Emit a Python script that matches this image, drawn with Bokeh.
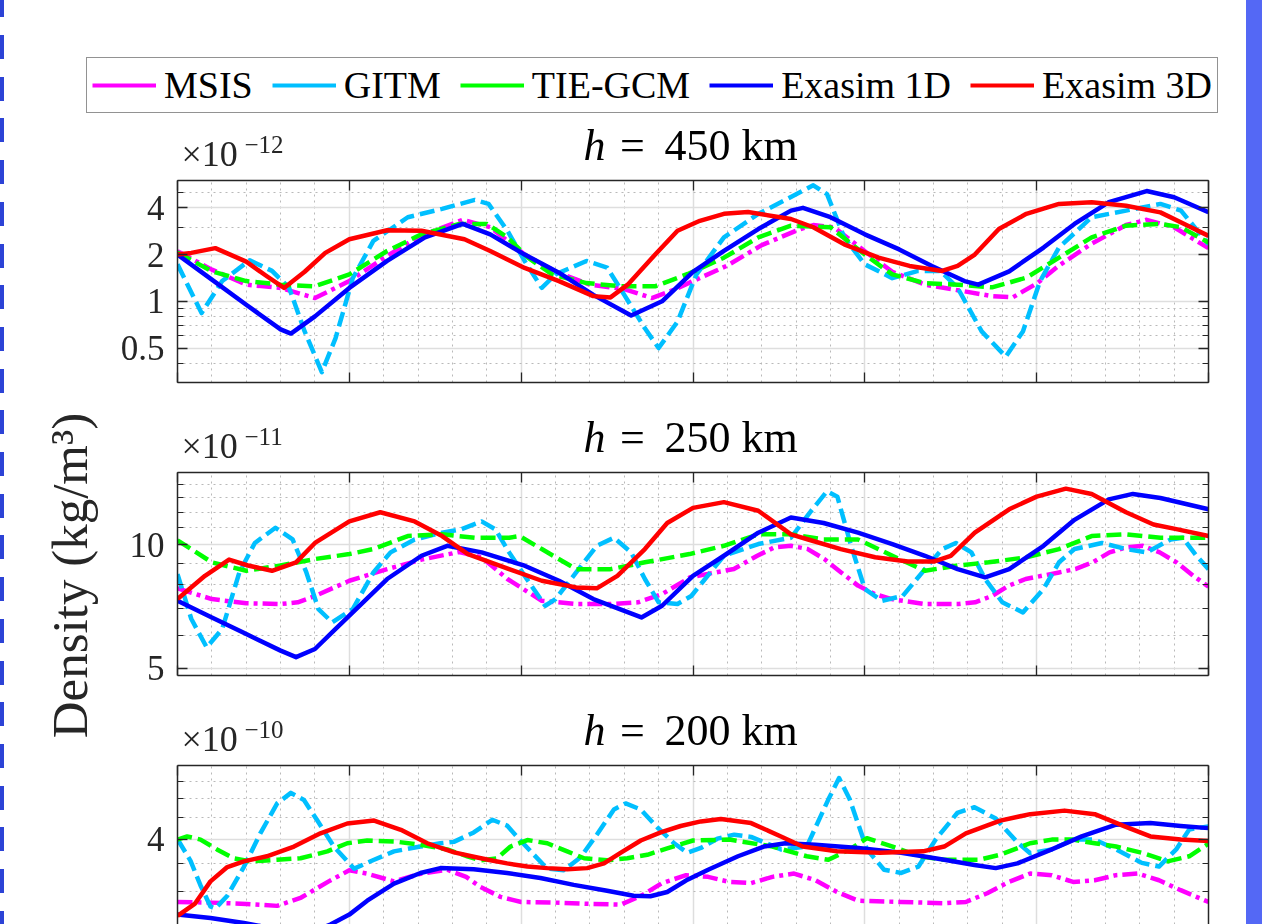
from bokeh.plotting import figure
from bokeh.models import (Range1d, FixedTicker, LinearAxis, LogAxis, Label, Legend,
                          LegendItem, NumeralTickFormatter, Div)
from bokeh.layouts import row, column
from bokeh.embed import file_html
from bokeh.resources import INLINE

# ---------------- data (values in the units of each panel's multiplier) ----------------
SERIES_NAMES = ["MSIS", "GITM", "TIE-GCM", "Exasim 1D", "Exasim 3D"]
SERIES_COLORS = ["#ff00ff", "#00bfff", "#00ff00", "#0000ff", "#ff0000"]
SERIES_DASH = ["15 5 4 5", "15 6", "15 6", "solid", "solid"]

PANEL_TITLES = ["450 km", "250 km", "200 km"]
PANEL_EXPONENTS = ["\u221212", "\u221211", "\u221210"]

# h = 450 km (x 1e-12)
P1_MSIS_X = [0, 1, 2, 3, 4, 5, 6, 7, 8.3, 9.1, 10.1, 11, 12, 13, 13.8, 14.5, 15, 16, 17, 18, 18.5,
             19.1, 20, 20.8, 21.75, 22.7, 23.7, 24.3, 25, 25.65, 26.6, 27.6, 28.2, 29, 30]
P1_MSIS = [2.1, 1.6, 1.28, 1.22, 1.05, 1.35, 1.9, 2.6, 3.35, 3.0, 2.0, 1.55, 1.28, 1.2, 1.05, 1.2, 1.35,
           1.7, 2.3, 2.85, 3.1, 3.0, 2.1, 1.55, 1.28, 1.18, 1.08, 1.06, 1.3, 1.7, 2.35, 3.1, 3.35, 3.0, 2.2]
P1_GITM_X = [0, 0.7, 1.3, 2.1, 2.75, 3.25, 3.7, 4.2, 4.6, 5.1, 5.7, 6.7, 7.7, 8.65, 9.05, 9.6, 10.1,
             10.6, 11, 11.9, 12.5, 13, 13.6, 14, 14.55, 15.1, 15.9, 16.9, 17.85, 18.5, 18.9, 19.4, 20,
             20.8, 21.55, 22.2, 22.7, 23.4, 24.1, 24.6, 25.1, 25.65, 26.6, 27.6, 28.6, 29.2, 30]
P1_GITM = [1.73, 0.84, 1.35, 1.84, 1.57, 1.22, 0.64, 0.35, 0.58, 1.41, 2.45, 3.48, 3.94, 4.5, 4.24,
           2.85, 1.82, 1.22, 1.49, 1.82, 1.65, 1.1, 0.67, 0.5, 0.74, 1.49, 2.58, 3.66, 4.69, 5.59, 4.9,
           2.58, 1.73, 1.41, 1.57, 1.57, 1.22, 0.64, 0.44, 0.64, 1.35, 2.22, 3.48, 3.84, 4.24, 3.84, 2.33]
P1_TIE_X = [0, 1, 2, 3, 4, 5, 6.1, 7.1, 8.2, 9, 9.6, 10.2, 10.9, 11.9, 12.9, 13.9, 14.85, 15.9, 16.9,
            17.85, 19, 20, 20.8, 21.75, 22.7, 23.7, 24.7, 25.65, 26.6, 27.6, 28.6, 29.2, 30]
P1_TIE = [2.06, 1.56, 1.35, 1.28, 1.25, 1.49, 2.11, 2.7, 3.15, 3.15, 2.58, 1.91, 1.49, 1.31, 1.25, 1.25,
          1.5, 1.91, 2.58, 3.07, 3.0, 2.0, 1.49, 1.31, 1.28, 1.23, 1.42, 1.91, 2.58, 3.07, 3.15, 3.0, 2.39]
P1_E1D_X = [0, 1, 2, 3, 3.3, 4, 5, 6.1, 7.2, 8.3, 9.1, 10.1, 11.1, 12.1, 13.2, 14.1, 15, 15.9, 16.9,
            17.85, 18.2, 19, 20, 21, 21.95, 22.9, 23.3, 24.2, 25.2, 26.1, 27.1, 28.2, 29, 30]
P1_E1D = [2.0, 1.38, 0.95, 0.66, 0.62, 0.8, 1.22, 1.82, 2.58, 3.15, 2.7, 2.0, 1.53, 1.1, 0.81, 1.0, 1.55,
          2.11, 2.92, 3.84, 4.0, 3.48, 2.7, 2.16, 1.69, 1.35, 1.28, 1.56, 2.22, 3.15, 4.35, 5.13, 4.68, 3.75]
P1_E3D_X = [0, 0.4, 1.1, 2, 2.6, 3.1, 3.7, 4.3, 5, 6.1, 7.1, 8.35, 9.1, 10.1, 11.1, 12.1, 12.6, 13.1,
            13.9, 14.55, 15.2, 15.9, 16.6, 17.85, 18.5, 19.4, 20.4, 21.3, 22.25, 22.7, 23.2, 23.9, 24.7,
            25.65, 26.6, 27.6, 28.6, 29.4, 30]
P1_E3D = [2.0, 2.05, 2.2, 1.8, 1.45, 1.22, 1.55, 2.05, 2.51, 2.87, 2.85, 2.51, 2.11, 1.64, 1.35, 1.08,
          1.06, 1.28, 2.0, 2.85, 3.3, 3.66, 3.76, 3.39, 3.0, 2.33, 1.91, 1.69, 1.57, 1.69, 2.0, 2.92, 3.66,
          4.24, 4.35, 4.13, 3.74, 3.07, 2.64]

# h = 250 km (x 1e-11)
P2_MSIS_X = [0, 1, 2, 3, 3.5, 4, 5, 6.1, 7.1, 8.2, 8.85, 9.6, 10.6, 11.6, 12.6, 13.4, 14.1, 14.92,
             16.19, 16.87, 17.36, 17.85, 18.34, 18.82, 19.31, 19.8, 20.29, 20.78, 21.75, 22.73, 23.21,
             23.7, 24.19, 24.68, 25.65, 26.14, 26.63, 27.12, 27.6, 28.09, 28.58, 29.07, 29.56, 30]
P2_MSIS = [7.83, 7.37, 7.2, 7.17, 7.24, 7.5, 8.17, 8.72, 9.2, 9.6, 9.32, 8.25, 7.3, 7.17, 7.17, 7.24,
           7.58, 8.33, 8.73, 9.4, 9.85, 9.94, 9.76, 9.23, 8.56, 7.95, 7.58, 7.37, 7.17, 7.17, 7.24, 7.5,
           7.95, 8.25, 8.56, 8.73, 9.06, 9.58, 9.85, 9.94, 9.58, 9.06, 8.4, 7.9]
P2_GITM_X = [0, 0.4, 0.85, 1.3, 1.8, 2.25, 2.85, 3.35, 3.75, 4.1, 4.5, 5.1, 5.7, 6.2, 6.9, 7.7, 8.25,
             8.85, 9.25, 9.65, 10.1, 10.7, 11.0, 11.6, 12.2, 12.7, 13.2, 13.6, 14.0, 14.55, 14.95, 15.9,
             16.9, 17.85, 18.4, 18.9, 19.2, 19.6, 20.0, 20.5, 21.1, 21.75, 22.25, 22.65, 23.1, 23.5, 24.0,
             24.6, 25.2, 25.65, 26.1, 26.9, 27.6, 28.2, 28.9, 29.25, 29.65, 30]
P2_GITM = [8.48, 6.6, 5.62, 6.23, 8.56, 10.1, 11.0, 10.3, 8.56, 6.97, 6.47, 6.97, 8.56, 9.58, 10.3,
           10.7, 10.9, 11.4, 10.9, 9.58, 8.4, 7.1, 7.37, 8.56, 9.94, 10.4, 9.58, 8.25, 7.24, 7.17, 7.5,
           9.4, 10.04, 10.4, 11.98, 13.5, 13.1, 9.94, 7.8, 7.3, 7.5, 8.72, 9.76, 10.1, 9.58, 8.25, 7.24,
           6.84, 7.8, 9.06, 9.76, 10.1, 9.76, 9.58, 10.3, 10.4, 9.4, 8.72]
P2_TIE_X = [0, 1, 2, 3, 4, 5, 5.7, 6.7, 7.7, 8.65, 9.65, 9.95, 10.6, 11.6, 12.6, 13.6, 14.9, 15.9,
            16.9, 17.85, 18.8, 19.8, 20.8, 21.75, 22.7, 23.6, 24.7, 25.65, 26.6, 27.6, 28.6, 30]
P2_TIE = [10.25, 9.06, 8.64, 8.9, 9.23, 9.49, 9.76, 10.5, 10.6, 10.4, 10.4, 10.5, 9.76, 8.72, 8.72,
          9.06, 9.49, 9.94, 10.6, 10.6, 10.3, 10.3, 9.4, 8.64, 8.9, 9.06, 9.32, 9.76, 10.5, 10.6, 10.4, 10.4]
P2_E1D_X = [0, 1, 2, 3, 3.45, 4, 5, 6.1, 7.1, 7.85, 8.85, 10.1, 11.1, 12.1, 13.5, 14.1, 15, 15.9, 16.9,
            17.85, 18.8, 19.8, 20.8, 21.75, 22.7, 23.5, 24.2, 25.2, 26.1, 27.1, 27.8, 28.6, 30]
P2_E1D = [7.3, 6.65, 6.06, 5.52, 5.32, 5.57, 6.72, 8.25, 9.4, 9.94, 9.58, 8.89, 8.17, 7.37, 6.65, 7.1,
          8.4, 9.4, 10.7, 11.65, 11.3, 10.7, 10.04, 9.4, 8.72, 8.33, 8.72, 9.94, 11.5, 12.9, 13.3, 13.0, 12.2]
P2_E3D_X = [0, 0.8, 1.5, 2.05, 2.75, 3.45, 4, 5, 5.9, 6.9, 7.7, 8.45, 9.65, 10.6, 11.6, 12.2, 12.8,
            13.6, 14.25, 15, 15.9, 16.9, 17.85, 18.35, 19.3, 20.3, 21.25, 22, 22.5, 23.2, 24.2, 25,
            25.85, 26.6, 27.6, 28.4, 29.1, 30]
P2_E3D = [7.37, 8.4, 9.2, 8.9, 8.64, 9.06, 10.1, 11.4, 12.0, 11.4, 10.5, 9.49, 8.72, 8.17, 7.87, 7.83,
          8.4, 9.76, 11.3, 12.3, 12.7, 12.1, 10.6, 10.3, 9.76, 9.32, 9.1, 9.1, 9.4, 10.7, 12.2, 13.1,
          13.7, 13.3, 12.0, 11.2, 10.9, 10.5]

# h = 200 km (x 1e-10)
P3_MSIS_X = [0, 1, 2, 2.9, 3.6, 4.4, 5.0, 5.5, 6.3, 7.1, 7.85, 8.4, 8.8, 9.4, 10.0, 11.0, 12.0, 12.9,
             13.5, 14.1, 14.8, 15.44, 16.06, 16.69, 17.31, 17.94, 18.56, 19.19, 19.81, 21.06, 22.31,
             22.94, 23.56, 24.19, 24.81, 25.44, 26.06, 26.69, 27.31, 27.94, 28.56, 29.19, 30]
P3_MSIS = [2.83, 2.82, 2.8, 2.77, 2.9, 3.17, 3.37, 3.31, 3.17, 3.31, 3.38, 3.25, 3.08, 2.91, 2.83, 2.82,
           2.8, 2.79, 2.93, 3.14, 3.28, 3.25, 3.16, 3.14, 3.25, 3.31, 3.19, 2.99, 2.85, 2.83, 2.81, 2.83,
           2.97, 3.16, 3.31, 3.28, 3.16, 3.19, 3.28, 3.31, 3.19, 3.02, 2.83]
P3_GITM_X = [0, 0.38, 0.67, 0.96, 1.1, 1.45, 1.93, 2.41, 2.9, 3.3, 3.68, 4.07, 4.55, 5.14, 5.72, 6.3,
             7.07, 7.65, 8.04, 8.62, 9.16, 9.59, 9.98, 10.37, 10.76, 11.24, 11.73, 12.21, 12.7, 13.04,
             13.48, 13.96, 14.45, 14.84, 15.23, 15.71, 16.2, 16.69, 17.56, 18.31, 18.94, 19.25, 19.56,
             20.06, 20.56, 21.06, 21.56, 22.06, 22.69, 23.19, 23.81, 24.44, 24.81, 25.44, 26.06, 26.69,
             27.31, 28.06, 28.56, 29.06, 29.44, 30]
P3_GITM = [4.0, 3.55, 3.1, 2.76, 2.73, 2.93, 3.43, 4.13, 4.87, 5.16, 4.96, 4.43, 3.84, 3.4, 3.57, 3.74,
           3.84, 3.91, 3.94, 4.15, 4.45, 4.31, 3.97, 3.67, 3.4, 3.37, 3.62, 4.11, 4.71, 4.87, 4.71, 4.27,
           3.91, 3.71, 3.81, 4.01, 4.1, 4.05, 3.78, 3.84, 4.98, 5.6, 4.98, 3.78, 3.38, 3.32, 3.44, 3.99,
           4.62, 4.77, 4.48, 3.93, 3.7, 3.78, 3.99, 3.99, 3.78, 3.51, 3.44, 3.78, 4.22, 4.29]
P3_TIE_X = [0, 0.28, 0.67, 1.15, 1.64, 2.12, 2.9, 3.58, 4.36, 4.94, 5.52, 6.3, 7.07, 7.85, 8.43, 8.82,
            9.3, 9.69, 10.18, 10.76, 11.34, 11.83, 12.5, 13.09, 13.67, 14.25, 15.0, 16.06, 17.31, 18.31,
            18.94, 19.56, 20.06, 20.81, 21.56, 22.31, 23.31, 23.94, 24.81, 25.44, 26.06, 26.69, 27.31,
            28.06, 28.81, 29.44, 30]
P3_TIE = [3.99, 4.06, 3.99, 3.78, 3.6, 3.54, 3.57, 3.6, 3.74, 3.91, 3.97, 3.95, 3.88, 3.78, 3.64, 3.56,
          3.6, 3.84, 3.98, 3.91, 3.74, 3.6, 3.56, 3.6, 3.67, 3.8, 3.97, 3.99, 3.84, 3.64, 3.57, 3.78,
          4.02, 3.84, 3.64, 3.57, 3.57, 3.67, 3.91, 3.99, 3.99, 3.91, 3.84, 3.71, 3.54, 3.64, 3.9]
P3_E1D_X = [0, 0.96, 1.93, 2.4, 3.4, 4.45, 5.0, 5.52, 6.3, 7.07, 7.65, 8.62, 9.59, 10.56, 11.53, 12.5,
            13.27, 13.76, 14.25, 14.84, 15.44, 16.31, 17.06, 17.69, 18.56, 19.81, 21.06, 22.31, 23.19,
            23.81, 24.44, 25.44, 26.31, 27.31, 28.31, 29.19, 30]
P3_E1D = [2.64, 2.59, 2.52, 2.48, 2.3, 2.5, 2.64, 2.85, 3.13, 3.32, 3.41, 3.39, 3.32, 3.23, 3.11, 3.01,
          2.93, 2.92, 2.99, 3.2, 3.38, 3.64, 3.84, 3.91, 3.88, 3.81, 3.71, 3.57, 3.47, 3.41, 3.5, 3.78,
          4.06, 4.33, 4.37, 4.3, 4.25]
P3_E3D_X = [0, 0.5, 0.96, 1.45, 1.93, 2.6, 3.39, 4.16, 4.94, 5.72, 6.5, 7.27, 8.05, 8.62, 9.11, 9.59,
            10.18, 10.76, 11.34, 11.92, 12.41, 12.89, 13.48, 14.06, 14.64, 15.23, 15.81, 16.69, 17.56,
            18.19, 19.19, 20.44, 21.69, 22.31, 22.94, 23.94, 24.81, 25.81, 26.69, 27.56, 28.31, 29.19, 30]
P3_E3D = [2.62, 2.8, 3.17, 3.43, 3.54, 3.64, 3.84, 4.13, 4.36, 4.43, 4.21, 3.91, 3.72, 3.63, 3.56, 3.5,
          3.44, 3.41, 3.39, 3.41, 3.5, 3.71, 3.97, 4.15, 4.3, 4.41, 4.47, 4.37, 4.06, 3.84, 3.74, 3.71,
          3.74, 3.84, 4.13, 4.43, 4.59, 4.68, 4.59, 4.29, 4.06, 3.99, 3.96]

X_MAJOR = [0, 5, 10, 15, 20, 25, 30]
X_MINOR = [1, 2, 3, 4, 6, 7, 8, 9, 11, 12, 13, 14, 16, 17, 18, 19, 21, 22, 23, 24, 26, 27, 28, 29]
Y_MAJOR = [[0.5, 1, 2, 4], [5, 10], [2, 4]]
Y_MINOR = [[0.3, 0.4, 0.6, 0.7, 0.8, 0.9, 3, 5, 6],
           [6, 7, 8, 9, 11, 12, 13, 14, 15],
           [2.5, 3, 3.5, 4.5, 5, 5.5]]
Y_LIMITS = [(0.3, 6.0), (4.8, 15.0), (2.5, 6.0)]

PANEL_DATA = [
    [(P1_MSIS_X, P1_MSIS), (P1_GITM_X, P1_GITM), (P1_TIE_X, P1_TIE), (P1_E1D_X, P1_E1D), (P1_E3D_X, P1_E3D)],
    [(P2_MSIS_X, P2_MSIS), (P2_GITM_X, P2_GITM), (P2_TIE_X, P2_TIE), (P2_E1D_X, P2_E1D), (P2_E3D_X, P2_E3D)],
    [(P3_MSIS_X, P3_MSIS), (P3_GITM_X, P3_GITM), (P3_TIE_X, P3_TIE), (P3_E1D_X, P3_E1D), (P3_E3D_X, P3_E3D)],
]

# ---------------- styling / layout ----------------
FONT = "Liberation Serif"
AX_COLOR = "#262626"
FIG_W = 1132
# (title strip height, fig height, fig border top, fig border bottom)
PANEL_GEOM = [(57, 223, 3, 18), (69, 231, 3, 25), (62, 162, 3, 0)]


def style_axis(ax, show_labels, minor):
    ax.axis_line_color = AX_COLOR
    ax.axis_line_width = 1.5
    ax.major_tick_in = 10
    ax.major_tick_out = 0
    ax.major_tick_line_color = AX_COLOR
    ax.major_tick_line_width = 1.3
    ax.minor_tick_in = 6
    ax.minor_tick_out = 0
    ax.minor_tick_line_color = AX_COLOR if minor else None
    ax.minor_tick_line_width = 1.2
    if show_labels:
        ax.major_label_text_font = FONT
        ax.major_label_text_font_size = "35px"
        ax.major_label_text_color = AX_COLOR
        ax.major_label_standoff = 13
        ax.formatter = NumeralTickFormatter(format="0.[0]")
    else:
        ax.major_label_text_font_size = "1px"
        ax.major_label_text_color = None
        ax.major_label_standoff = 0


def blank_strip(w, h):
    s = figure(width=w, height=h, x_range=Range1d(0, 1), y_range=Range1d(0, 1),
               toolbar_location=None, output_backend="svg", x_axis_location=None,
               y_axis_location=None, min_border=0)
    s.grid.visible = False
    s.outline_line_color = None
    return s


def strip_label(text, x, y, size, align, color, italic=False):
    return Label(x=x, y=y, x_units="screen", y_units="screen", text=text, text_font=FONT,
                 text_font_style=("italic" if italic else "normal"), text_font_size=size,
                 text_align=align, text_baseline="middle", text_color=color)


stack = []
for i in range(3):
    sh, h, bt, bb = PANEL_GEOM[i]
    # title strip: its frame is aligned with the panel frame (left edge at page x=177)
    st = blank_strip(FIG_W, sh)
    st.add_layout(strip_label("h", 428, 32, "44px", "right", "black", italic=True))
    st.add_layout(strip_label("=", 455, 32, "44px", "center", "black"))
    st.add_layout(strip_label(PANEL_TITLES[i], 487, 32, "44px", "left", "black"))
    st.add_layout(strip_label("\u00d710", 4, 24, "36px", "left", AX_COLOR))
    st.add_layout(strip_label(PANEL_EXPONENTS[i], 67, 33, "25px", "left", AX_COLOR))
    stack.append(st)

    ylo, yhi = Y_LIMITS[i]
    p = figure(width=FIG_W, height=h, x_range=Range1d(0, 30), y_range=Range1d(ylo, yhi),
               y_axis_type="log", toolbar_location=None, output_backend="svg",
               x_axis_location=("below" if i < 2 else None),
               min_border_left=63, min_border_right=38, min_border_top=bt, min_border_bottom=bb)
    p.outline_line_color = None
    xt = FixedTicker(ticks=X_MAJOR, minor_ticks=X_MINOR)
    yt = FixedTicker(ticks=Y_MAJOR[i], minor_ticks=Y_MINOR[i])

    for ax in p.yaxis:
        ax.ticker = yt
        style_axis(ax, True, True)
    for ax in p.xaxis:
        ax.ticker = xt
        style_axis(ax, False, False)
    top_ax = LinearAxis(ticker=xt)
    style_axis(top_ax, False, False)
    p.add_layout(top_ax, "above")
    right_ax = LogAxis(ticker=yt)
    style_axis(right_ax, False, True)
    p.add_layout(right_ax, "right")

    p.xgrid.ticker = xt
    p.ygrid.ticker = yt
    for g in (p.xgrid, p.ygrid):
        g.grid_line_color = "#dedede"
        g.grid_line_width = 1.5
        g.minor_grid_line_color = "#b9b9b9"
        g.minor_grid_line_width = 1
        g.minor_grid_line_dash = "2 4"

    for k in range(5):
        xs, ys = PANEL_DATA[i][k]
        p.line(xs, ys, line_color=SERIES_COLORS[k], line_width=4.5,
               line_dash=SERIES_DASH[k], line_join="round")
    stack.append(p)

# legend strip (swatches use renderers whose points lie outside the strip's range)
lf = blank_strip(1242, 120)
items = []
for k in range(5):
    r = lf.line(x=[5, 6], y=[5, 6], line_color=SERIES_COLORS[k], line_width=4)
    items.append(LegendItem(label=SERIES_NAMES[k], renderers=[r]))
leg = Legend(items=items, orientation="horizontal", location=(82, 7), margin=0, padding=5,
             spacing=19, label_standoff=8, glyph_width=64, glyph_height=20,
             border_line_color=AX_COLOR, border_line_width=1,
             background_fill_color="white", background_fill_alpha=1.0,
             label_text_font=FONT, label_text_font_size="38px", label_text_color="black")
lf.add_layout(leg, "center")

# y label strip
yl = blank_strip(110, 804)
yl.add_layout(Label(x=65, y=349, x_units="screen", y_units="screen",
                    text="Density (kg/m\u00b3)", angle=1.5707963, text_font=FONT,
                    text_font_size="51px", text_align="center", text_baseline="middle",
                    text_color=AX_COLOR))

left_bar = Div(text="", width=4, height=924, margin=0,
               styles={"background": "repeating-linear-gradient(to bottom, #2c43d6 0px, #2c43d6 17.3px, "
                                     "transparent 17.3px, transparent 35px, #2c43d6 35px, #2c43d6 41.7px)"})
right_bar = Div(text="", width=16, height=924, margin=0, styles={"background-color": "#5468f5"})

body = column(lf, row(yl, column(*stack)))
root = row(left_bar, body, right_bar,
           styles={"position": "fixed", "left": "0px", "top": "0px"})

open("out.html", "w").write(file_html(root, INLINE))
